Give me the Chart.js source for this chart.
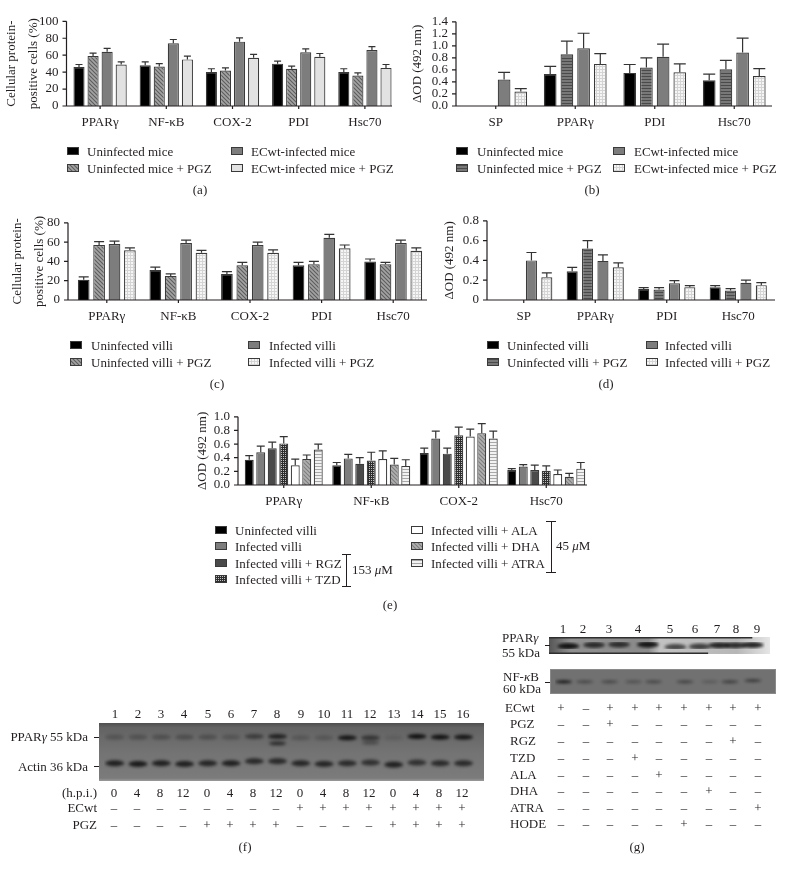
<!DOCTYPE html>
<html>
<head>
<meta charset="utf-8">
<script src="https://cdn.jsdelivr.net/npm/chart.js@4"></script>
<style>
    body { margin: 0; background: #fff; }
    #page { position: relative; width: 786px; height: 873px; overflow: hidden; font-family: "Liberation Serif", serif; color: #231f20; }
    #page canvas { position: absolute; }
    .txt { position: absolute; white-space: nowrap; line-height: 1; will-change: transform; }
    .rule { position: absolute; background: #231f20; }
</style>
</head>
<body>
<div id="page"></div>
<script>
// panel a
const aGroups = ['PPARγ', 'NF-κB', 'COX-2', 'PDI', 'Hsc70'];
const aUninfected = [46, 48, 40, 50, 40];
const aUninfectedErr = [3, 4, 4, 3, 4];
const aUninfectedPgz = [59, 46.5, 42, 44, 36];
const aUninfectedPgzErr = [3.5, 3.5, 3, 3, 3];
const aInfected = [64, 74, 76, 63.5, 66];
const aInfectedErr = [4, 4.5, 4.5, 4, 4];
const aInfectedPgz = [49, 55, 57, 58, 45];
const aInfectedPgzErr = [3, 4, 4, 4, 4];

// panel b
const bGroups = ['SP', 'PPARγ', 'PDI', 'Hsc70'];
const bUninfected = [null, 0.53, 0.55, 0.43];
const bUninfectedErr = [null, 0.13, 0.14, 0.10];
const bUninfectedPgz = [null, 0.86, 0.64, 0.61];
const bUninfectedPgzErr = [null, 0.22, 0.16, 0.15];
const bInfected = [0.44, 0.96, 0.82, 0.89];
const bInfectedErr = [0.12, 0.25, 0.21, 0.24];
const bInfectedPgz = [0.24, 0.70, 0.56, 0.50];
const bInfectedPgzErr = [0.05, 0.17, 0.14, 0.12];

// panel c
const cGroups = ['PPARγ', 'NF-κB', 'COX-2', 'PDI', 'Hsc70'];
const cUninfected = [21, 31, 27, 36, 40];
const cUninfectedErr = [3, 3, 2.5, 3, 2.5];
const cUninfectedPgz = [57, 25, 36, 37, 37];
const cUninfectedPgzErr = [3.5, 2, 3, 3, 2];
const cInfected = [58, 59, 57, 64.5, 59];
const cInfectedErr = [3, 3, 3, 3.5, 3];
const cInfectedPgz = [51.5, 49, 49, 53.5, 51];
const cInfectedPgzErr = [2.5, 2.5, 3, 3.5, 3];

// panel d
const dGroups = ['SP', 'PPARγ', 'PDI', 'Hsc70'];
const dUninfected = [null, 0.29, 0.11, 0.13];
const dUninfectedErr = [null, 0.04, 0.015, 0.015];
const dUninfectedPgz = [null, 0.52, 0.105, 0.095];
const dUninfectedPgzErr = [null, 0.08, 0.02, 0.02];
const dInfected = [0.40, 0.395, 0.17, 0.175];
const dInfectedErr = [0.08, 0.06, 0.025, 0.025];
const dInfectedPgz = [0.23, 0.33, 0.13, 0.15];
const dInfectedPgzErr = [0.045, 0.045, 0.015, 0.025];

// panel e
const eGroups = ['PPARγ', 'NF-κB', 'COX-2', 'Hsc70'];
const eUninfected = [0.37, 0.29, 0.47, 0.22];
const eUninfectedErr = [0.06, 0.04, 0.07, 0.02];
const eInfected = [0.48, 0.39, 0.68, 0.27];
const eInfectedErr = [0.09, 0.06, 0.11, 0.03];
const eRgz = [0.54, 0.31, 0.46, 0.22];
const eRgzErr = [0.09, 0.09, 0.08, 0.07];
const eTzd = [0.61, 0.36, 0.73, 0.21];
const eTzdErr = [0.10, 0.12, 0.12, 0.07];
const eAla = [0.29, 0.38, 0.71, 0.16];
const eAlaErr = [0.09, 0.12, 0.11, 0.06];
const eDha = [0.38, 0.30, 0.76, 0.12];
const eDhaErr = [0.06, 0.09, 0.14, 0.05];
const eAtra = [0.52, 0.28, 0.68, 0.24];
const eAtraErr = [0.08, 0.09, 0.11, 0.09];

// blot f, band strength 0..1 and apparent kDa per lane
const fLanes = [1, 2, 3, 4, 5, 6, 7, 8, 9, 10, 11, 12, 13, 14, 15, 16];
const fPpar = [0.25, 0.28, 0.3, 0.32, 0.3, 0.25, 0.5, 0.8, 0.22, 0.22, 0.95, 0.6, 0.12, 1, 1, 0.95];
const fPparKda = [55, 55, 55, 55, 55, 55, 55.5, 55.5, 54.5, 54.5, 54.5, 54.5, 54.5, 55.5, 55, 55];
const fPparLower = [0, 0, 0, 0, 0, 0, 0, 0.7, 0, 0, 0, 0.35, 0, 0, 0, 0];
const fPparLowerKda = [51, 51, 51, 51, 51, 51, 51, 50.5, 51, 51, 51, 51, 51, 51, 51, 51];
const fActin = [0.85, 0.9, 0.85, 0.85, 0.8, 0.85, 0.75, 0.75, 0.8, 0.8, 0.75, 0.7, 0.85, 0.7, 0.75, 0.75];
const fActinKda = [36, 35.5, 36, 35.5, 36, 36, 37.5, 37.5, 36, 35.5, 36, 36.5, 35, 36.5, 36, 36];
const fHours = ['0', '4', '8', '12', '0', '4', '8', '12', '0', '4', '8', '12', '0', '4', '8', '12'];
const fEcwt = ['–', '–', '–', '–', '–', '–', '–', '–', '+', '+', '+', '+', '+', '+', '+', '+'];
const fPgz = ['–', '–', '–', '–', '+', '+', '+', '+', '–', '–', '–', '–', '+', '+', '+', '+'];

// blot g
const gPparLanes = [1, 2.12, 3.2, 4.45, 5.65, 6.7, 7.55, 8.25, 9];
const gPpar = [1, 0.8, 0.8, 1, 0.7, 0.75, 0.9, 0.85, 0.9];
const gPparKda = [53.5, 56.5, 57.5, 57.5, 51.5, 52.5, 55.5, 55.5, 56.5];
const gNfkbLanes = [1, 1.89, 2.94, 3.95, 4.8, 6.13, 7.18, 8.03, 9];
const gNfkb = [1, 0.45, 0.45, 0.35, 0.45, 0.5, 0.25, 0.55, 0.6];
const gNfkbKda = [60, 60, 60, 60, 60, 60, 60, 60, 62];
const gTreatments = ['ECwt', 'PGZ', 'RGZ', 'TZD', 'ALA', 'DHA', 'ATRA', 'HODE'];
const gEcwt = ['+', '–', '+', '+', '+', '+', '+', '+', '+'];
const gPgz = ['–', '–', '+', '–', '–', '–', '–', '–', '–'];
const gRgz = ['–', '–', '–', '–', '–', '–', '–', '+', '–'];
const gTzd = ['–', '–', '–', '+', '–', '–', '–', '–', '–'];
const gAla = ['–', '–', '–', '–', '+', '–', '–', '–', '–'];
const gDha = ['–', '–', '–', '–', '–', '–', '+', '–', '–'];
const gAtra = ['–', '–', '–', '–', '–', '–', '–', '–', '+'];
const gHode = ['–', '–', '–', '–', '–', '+', '–', '–', '–'];

const page = document.getElementById('page');
const ink = '#231f20';
const barLine = '#3a3a3a';

const label = (html, x, y, align = 'left', size = 13) => {
    const el = document.createElement('div');
    el.className = 'txt';
    el.innerHTML = html;
    el.style.left = x + 'px';
    el.style.top = y + 'px';
    el.style.fontSize = size + 'px';
    const shift = { left: '0', center: '-50%', right: '-100%' }[align];
    el.style.transform = `translate(${shift}, -50%)`;
    page.appendChild(el);
}

const rule = (x, y, w, h) => {
    const el = document.createElement('div');
    el.className = 'rule';
    el.style.cssText = `left:${x}px;top:${y}px;width:${w}px;height:${h}px`;
    page.appendChild(el);
}

const addCanvas = (x, y, w, h) => {
    const canvas = document.createElement('canvas');
    canvas.width = w;
    canvas.height = h;
    canvas.style.left = x + 'px';
    canvas.style.top = y + 'px';
    canvas.style.width = w + 'px';
    canvas.style.height = h + 'px';
    page.appendChild(canvas);
    return canvas;
}

// small repeating fills for the bars and the legend keys
const fill = (kind) => {
    const tile = document.createElement('canvas');
    const t = tile.getContext('2d');
    const diag = (bg, fg) => {
        tile.width = tile.height = 4;
        t.fillStyle = bg;
        t.fillRect(0, 0, 4, 4);
        t.strokeStyle = fg;
        t.lineWidth = 1.1;
        t.beginPath();
        t.moveTo(-1, 1); t.lineTo(3, 5);
        t.moveTo(1, -1); t.lineTo(5, 3);
        t.stroke();
    };
    const stripes = (bg, fg) => {
        tile.width = 3;
        tile.height = 3;
        t.fillStyle = bg;
        t.fillRect(0, 0, 3, 3);
        t.fillStyle = fg;
        t.fillRect(0, 1, 3, 1);
    };
    const dots = (bg, fg, size = 3) => {
        tile.width = tile.height = size;
        t.fillStyle = bg;
        t.fillRect(0, 0, size, size);
        t.fillStyle = fg;
        t.fillRect(0, 0, 1, size);
        t.fillRect(0, 0, size, 1);
    };
    if (kind === 'hatch') diag('#a3a3a3', '#5d5d5d');
    if (kind === 'softHatch') diag('#b0b0b0', '#7d7d7d');
    if (kind === 'bands') stripes('#787878', '#4a4a4a');
    if (kind === 'softBands') stripes('#f2f2f2', '#a8a8a8');
    if (kind === 'grid') dots('#f6f6f6', '#d4d4d4');
    if (kind === 'check') dots('#c0c0c0', '#2e2e2e', 2);
    return document.createElement('canvas').getContext('2d').createPattern(tile, 'repeat');
}

const colors = {
    black: '#000000',
    mid: '#7d7d7d',
    pale: '#e2e2e2',
    white: '#ffffff',
    dark: '#4a4a4a',
    hatch: fill('hatch'),
    softHatch: fill('softHatch'),
    bands: fill('bands'),
    softBands: fill('softBands'),
    grid: fill('grid'),
    check: fill('check'),
};

// the axes stop short of the category band in these figures, so they are drawn by hand
const barFrame = {
    id: 'barFrame',
    afterDatasetsDraw(chart, args, opts) {
        const { ctx, chartArea, scales: { x, y } } = chart;
        ctx.save();
        // error bars, upper arm only
        ctx.strokeStyle = '#333333';
        ctx.lineWidth = 1.2;
        chart.data.datasets.forEach((ds, i) => {
            chart.getDatasetMeta(i).data.forEach((bar, j) => {
                if (ds.data[j] === null) return;
                const top = y.getPixelForValue(ds.data[j] + ds.errors[j]);
                const base = y.getPixelForValue(ds.data[j]);
                ctx.beginPath();
                ctx.moveTo(bar.x, base);
                ctx.lineTo(bar.x, top);
                ctx.moveTo(bar.x - opts.cap, top);
                ctx.lineTo(bar.x + opts.cap, top);
                ctx.stroke();
            });
        });
        ctx.strokeStyle = ink;
        ctx.lineWidth = 1.2;
        ctx.beginPath();
        ctx.moveTo(opts.axisLeft, chartArea.bottom);
        ctx.lineTo(opts.axisRight, chartArea.bottom);
        ctx.moveTo(opts.axisLeft, chartArea.top);
        ctx.lineTo(opts.axisLeft, chartArea.bottom);
        y.ticks.forEach(t => {
            const py = y.getPixelForValue(t.value);
            ctx.moveTo(opts.axisLeft - 4, py);
            ctx.lineTo(opts.axisLeft, py);
        });
        x.ticks.forEach((t, i) => {
            const px = x.getPixelForTick(i);
            ctx.moveTo(px, chartArea.bottom);
            ctx.lineTo(px, chartArea.bottom + 3);
        });
        ctx.stroke();
        ctx.restore();
    }
};

const barPanel = (p) => {
    const gutter = 70;
    const top = 8;
    const below = 32;
    const right = 12;
    const canvasLeft = p.left - gutter;
    const canvas = addCanvas(canvasLeft, p.top - top, gutter + p.width + right, top + p.height + below);
    return new Chart(canvas, {
        type: 'bar',
        data: {
            labels: p.groups,
            datasets: p.series.map(s => ({
                label: s.name,
                data: s.values,
                errors: s.errors,
                backgroundColor: s.color,
                borderColor: barLine,
                borderWidth: 1.2,
                barPercentage: p.barPct,
                categoryPercentage: p.catPct,
            })),
        },
        options: {
            responsive: false,
            animation: false,
            layout: { padding: { top, right, left: 0, bottom: 0 } },
            plugins: {
                legend: { display: false },
                tooltip: { enabled: false },
                barFrame: { axisLeft: p.axisLeft - canvasLeft, axisRight: p.axisRight - canvasLeft, cap: p.cap },
            },
            scales: {
                x: {
                    afterFit: scale => { scale.height = below; },
                    grid: { display: false, drawTicks: false },
                    border: { display: false },
                    ticks: { color: ink, padding: 9, maxRotation: 0, autoSkip: false, font: { family: 'Liberation Serif', size: 13 } },
                },
                y: {
                    min: 0,
                    max: p.max,
                    afterFit: scale => { scale.width = gutter; },
                    grid: { display: false, drawTicks: false },
                    border: { display: false },
                    ticks: {
                        color: ink,
                        padding: p.left - p.axisLeft + 8,
                        stepSize: p.step,
                        autoSkip: false,
                        font: { family: 'Liberation Serif', size: 13 },
                        callback: p.tick,
                    },
                    title: {
                        display: true,
                        text: p.title,
                        color: ink,
                        font: { family: 'Liberation Serif', size: 13, lineHeight: p.titleLh },
                        padding: { top: p.titlePad, bottom: 0 },
                    },
                },
            },
        },
        plugins: [barFrame],
    });
}

const legendKey = (x, y, color) => {
    const key = addCanvas(x, y - 4, 12, 8);
    const c = key.getContext('2d');
    c.fillStyle = color;
    c.fillRect(0.5, 0.5, 11, 7);
    c.strokeStyle = barLine;
    c.lineWidth = 1;
    c.strokeRect(0.5, 0.5, 11, 7);
}

const legendRow = (keyX, textX, y, color, text) => {
    legendKey(keyX, y, color);
    label(text, textX, y);
}

const oneDecimal = v => v.toFixed(1);
const plainDecimal = v => (v === 0 ? '0' : v.toFixed(1));
const coverTitle = ['Cellular protein-', 'positive cells (%)'];

barPanel({
    left: 67, top: 13, width: 331, height: 93, axisLeft: 66.5, axisRight: 392, groups: aGroups, max: 100, step: 20,
    title: coverTitle, titlePad: 4.5, titleLh: 1.62, barPct: 0.79, catPct: 0.85, cap: 3.5,
    series: [
        { name: 'Uninfected mice', values: aUninfected, errors: aUninfectedErr, color: colors.black },
        { name: 'Uninfected mice + PGZ', values: aUninfectedPgz, errors: aUninfectedPgzErr, color: colors.hatch },
        { name: 'ECwt-infected mice', values: aInfected, errors: aInfectedErr, color: colors.mid },
        { name: 'ECwt-infected mice + PGZ', values: aInfectedPgz, errors: aInfectedPgzErr, color: colors.pale },
    ],
});
legendRow(67, 87, 151, colors.black, 'Uninfected mice');
legendRow(67, 87, 168, colors.hatch, 'Uninfected mice + PGZ');
legendRow(231, 251, 151, colors.mid, 'ECwt-infected mice');
legendRow(231, 251, 168, colors.pale, 'ECwt-infected mice + PGZ');
label('(a)', 200, 189, 'center');

barPanel({
    left: 456, top: 14, width: 318, height: 92, axisLeft: 456, axisRight: 772, groups: bGroups, max: 1.4, step: 0.2,
    title: 'ΔOD (492 nm)', titlePad: 23, titleLh: 1.35, barPct: 0.76, catPct: 0.84, cap: 6, tick: oneDecimal,
    series: [
        { name: 'Uninfected mice', values: bUninfected, errors: bUninfectedErr, color: colors.black },
        { name: 'Uninfected mice + PGZ', values: bUninfectedPgz, errors: bUninfectedPgzErr, color: colors.bands },
        { name: 'ECwt-infected mice', values: bInfected, errors: bInfectedErr, color: colors.mid },
        { name: 'ECwt-infected mice + PGZ', values: bInfectedPgz, errors: bInfectedPgzErr, color: colors.grid },
    ],
});
legendRow(456, 477, 151, colors.black, 'Uninfected mice');
legendRow(456, 477, 168, colors.bands, 'Uninfected mice + PGZ');
legendRow(613, 634, 151, colors.mid, 'ECwt-infected mice');
legendRow(613, 634, 168, colors.grid, 'ECwt-infected mice + PGZ');
label('(b)', 592, 189, 'center');

barPanel({
    left: 71, top: 212, width: 358, height: 88, axisLeft: 68, axisRight: 427, groups: cGroups, max: 80, step: 20,
    title: coverTitle, titlePad: 6.5, titleLh: 1.62, barPct: 0.76, catPct: 0.86, cap: 5,
    series: [
        { name: 'Uninfected villi', values: cUninfected, errors: cUninfectedErr, color: colors.black },
        { name: 'Uninfected villi + PGZ', values: cUninfectedPgz, errors: cUninfectedPgzErr, color: colors.hatch },
        { name: 'Infected villi', values: cInfected, errors: cInfectedErr, color: colors.mid },
        { name: 'Infected villi + PGZ', values: cInfectedPgz, errors: cInfectedPgzErr, color: colors.grid },
    ],
});
legendRow(70, 91, 345, colors.black, 'Uninfected villi');
legendRow(70, 91, 362, colors.hatch, 'Uninfected villi + PGZ');
legendRow(248, 269, 345, colors.mid, 'Infected villi');
legendRow(248, 269, 362, colors.grid, 'Infected villi + PGZ');
label('(c)', 217, 383, 'center');

barPanel({
    left: 488, top: 212, width: 286, height: 88, axisLeft: 487, axisRight: 775, groups: dGroups, max: 0.8, step: 0.2,
    title: 'ΔOD (492 nm)', titlePad: 23, titleLh: 1.35, barPct: 0.72, catPct: 0.86, cap: 5, tick: plainDecimal,
    series: [
        { name: 'Uninfected villi', values: dUninfected, errors: dUninfectedErr, color: colors.black },
        { name: 'Uninfected villi + PGZ', values: dUninfectedPgz, errors: dUninfectedPgzErr, color: colors.bands },
        { name: 'Infected villi', values: dInfected, errors: dInfectedErr, color: colors.mid },
        { name: 'Infected villi + PGZ', values: dInfectedPgz, errors: dInfectedPgzErr, color: colors.grid },
    ],
});
legendRow(487, 507, 345, colors.black, 'Uninfected villi');
legendRow(487, 507, 362, colors.bands, 'Uninfected villi + PGZ');
legendRow(646, 665, 345, colors.mid, 'Infected villi');
legendRow(646, 665, 362, colors.grid, 'Infected villi + PGZ');
label('(d)', 606, 383, 'center');

barPanel({
    left: 240, top: 407, width: 350, height: 78, axisLeft: 238, axisRight: 587, groups: eGroups, max: 1, step: 0.2,
    title: 'ΔOD (492 nm)', titlePad: 24, titleLh: 1.35, barPct: 0.78, catPct: 0.92, cap: 4, tick: oneDecimal,
    series: [
        { name: 'Uninfected villi', values: eUninfected, errors: eUninfectedErr, color: colors.black },
        { name: 'Infected villi', values: eInfected, errors: eInfectedErr, color: colors.mid },
        { name: 'Infected villi + RGZ', values: eRgz, errors: eRgzErr, color: colors.dark },
        { name: 'Infected villi + TZD', values: eTzd, errors: eTzdErr, color: colors.check },
        { name: 'Infected villi + ALA', values: eAla, errors: eAlaErr, color: colors.white },
        { name: 'Infected villi + DHA', values: eDha, errors: eDhaErr, color: colors.softHatch },
        { name: 'Infected villi + ATRA', values: eAtra, errors: eAtraErr, color: colors.softBands },
    ],
});
legendRow(215, 235, 530, colors.black, 'Uninfected villi');
legendRow(215, 235, 546, colors.mid, 'Infected villi');
legendRow(215, 235, 563, colors.dark, 'Infected villi + RGZ');
legendRow(215, 235, 579, colors.check, 'Infected villi + TZD');
legendRow(411, 431, 530, colors.white, 'Infected villi + ALA');
legendRow(411, 431, 546, colors.softHatch, 'Infected villi + DHA');
legendRow(411, 431, 563, colors.softBands, 'Infected villi + ATRA');
rule(342, 554, 9, 1);
rule(346, 554, 1, 32);
rule(342, 586, 9, 1);
label('153 <i>μ</i>M', 352, 569);
rule(546, 521, 10, 1);
rule(551, 521, 1, 51);
rule(546, 572, 10, 1);
label('45 <i>μ</i>M', 556, 545);
label('(e)', 390, 604, 'center');

// one soft smear per band, so the strength of a lane sets how dark it prints
const bandImage = (w, h, strength) => {
    const pad = 6;
    const img = document.createElement('canvas');
    img.width = w + pad * 2;
    img.height = h + pad * 2;
    const c = img.getContext('2d');
    c.filter = 'blur(1.6px)';
    c.fillStyle = `rgba(18, 18, 18, ${strength})`;
    c.beginPath();
    c.ellipse(img.width / 2, img.height / 2, w / 2, h / 2, 0, 0, Math.PI * 2);
    c.fill();
    return img;
}

const blotPanel = (box, xRange, yRange, paint, bands) => {
    const canvas = addCanvas(box.x, box.y, box.w, box.h);
    return new Chart(canvas, {
        type: 'scatter',
        data: {
            datasets: bands.map(b => ({
                data: b.lanes.map((lane, i) => ({ x: lane, y: b.kda[i] })),
                showLine: false,
                pointStyle: ctx => bandImage(b.w, b.h, b.strength[ctx.dataIndex] ?? 0),
            })),
        },
        options: {
            responsive: false,
            animation: false,
            layout: { padding: 0 },
            plugins: { legend: { display: false }, tooltip: { enabled: false } },
            scales: {
                x: { type: 'linear', display: false, min: xRange[0], max: xRange[1] },
                y: { type: 'linear', display: false, min: yRange[0], max: yRange[1] },
            },
        },
        plugins: [{
            id: 'membrane',
            beforeDatasetsDraw(chart) {
                paint(chart.ctx, box.w, box.h);
            }
        }],
    });
}

const fChart = blotPanel({ x: 99, y: 723, w: 385, h: 58 }, [0.539, 16.67], [26.7, 61.6], (c, w, h) => {
    const g = c.createLinearGradient(0, 0, 0, h);
    g.addColorStop(0, '#4f4f4f');
    g.addColorStop(0.08, '#636363');
    g.addColorStop(0.5, '#737373');
    g.addColorStop(0.95, '#7b7b7b');
    g.addColorStop(1, '#9a9a9a');
    c.fillStyle = g;
    c.fillRect(0, 0, w, h);
}, [
    { lanes: fLanes, kda: fPparKda, strength: fPpar, w: 19, h: 5 },
    { lanes: fLanes, kda: fPparLowerKda, strength: fPparLower, w: 17, h: 4 },
    { lanes: fLanes, kda: fActinKda, strength: fActin, w: 19, h: 6 },
]);

// lane captions follow the blot's own lane scale
const fx = lane => 99 + fChart.scales.x.getPixelForValue(lane);
fLanes.forEach((lane, i) => {
    label(String(lane), fx(lane), 713, 'center', 13);
    label(fHours[i], fx(lane) - 1, 792, 'center', 13);
    label(fEcwt[i], fx(lane) - 1, 807, 'center', 13);
    label(fPgz[i], fx(lane) - 1, 824, 'center', 13);
});
label('PPAR<i>γ</i> 55 kDa', 88, 736, 'right', 13);
label('Actin 36 kDa', 88, 766, 'right', 13);
rule(94, 737, 5, 1);
rule(94, 766, 5, 1);
label('(h.p.i.)', 97, 792, 'right', 13);
label('ECwt', 97, 807, 'right', 13);
label('PGZ', 97, 824, 'right', 13);
label('(f)', 245, 846, 'center');

blotPanel({ x: 549, y: 637, w: 221, h: 17 }, [0.378, 9.54], [46.5, 63.5], (c, w, h) => {
    const g = c.createLinearGradient(0, 0, w, 0);
    g.addColorStop(0, '#555555');
    g.addColorStop(0.1, '#8f8f8f');
    g.addColorStop(0.45, '#8a8a8a');
    g.addColorStop(0.5, '#c2c2c2');
    g.addColorStop(0.85, '#b6b6b6');
    g.addColorStop(1, '#e6e6e6');
    c.fillStyle = g;
    c.fillRect(0, 0, w, h);
    c.fillStyle = '#2e2e2e';
    c.fillRect(0, 0, w * 0.92, 1.5);
    c.fillRect(0, h - 1.5, w * 0.72, 1.5);
}, [
    { lanes: gPparLanes, kda: gPparKda, strength: gPpar, w: 22, h: 6 },
]);

blotPanel({ x: 550, y: 669, w: 226, h: 25 }, [0.636, 9.77], [48, 73], (c, w, h) => {
    c.fillStyle = '#717171';
    c.fillRect(0, 0, w, h);
    c.strokeStyle = '#8a8a8a';
    c.strokeRect(0.5, 0.5, w - 1, h - 1);
}, [
    { lanes: gNfkbLanes, kda: gNfkbKda, strength: gNfkb, w: 17, h: 3 },
]);

const gLaneLabels = [563, 583, 609, 638, 670, 695, 717, 736, 757];
gLaneLabels.forEach((x, i) => label(String(i + 1), x, 628, 'center', 13));
label('PPAR<i>γ</i>', 502, 637, 'left', 13);
label('55 kDa', 502, 652, 'left', 13);
label('NF-<i>κ</i>B', 503, 676, 'left', 13);
label('60 kDa', 503, 688, 'left', 13);
rule(545, 645, 5, 1);
rule(545, 682, 5, 1);

const gRows = [gEcwt, gPgz, gRgz, gTzd, gAla, gDha, gAtra, gHode];
const gRowY = [707, 723, 740, 757, 774, 790, 807, 823];
gTreatments.forEach((name, r) => {
    label(name, r === 0 ? 505 : 510, gRowY[r], 'left', 13);
    gRows[r].forEach((mark, i) => label(mark, 561 + 24.6 * i, gRowY[r], 'center', 13));
});
label('(g)', 637, 846, 'center');
</script>
</body>
</html>
